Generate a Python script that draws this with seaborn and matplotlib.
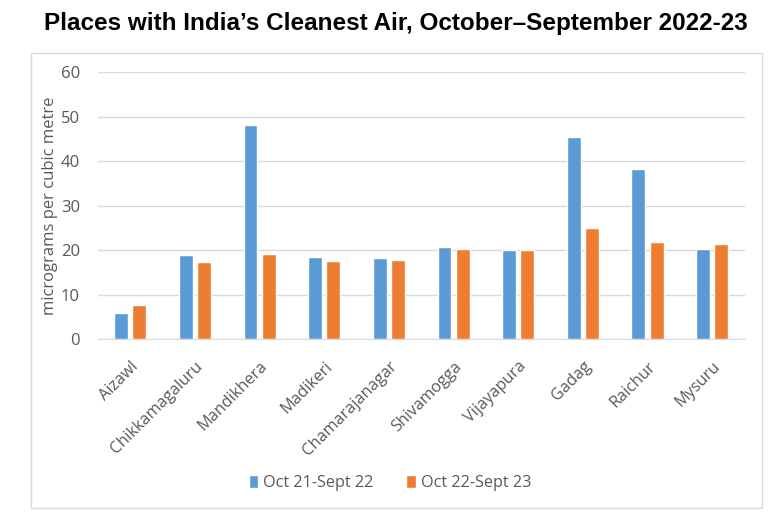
import seaborn as sns
import pandas as pd
import matplotlib.pyplot as plt
from matplotlib.patches import Rectangle

# Data
places = ["Aizawl", "Chikkamagaluru", "Mandikhera", "Madikeri", "Chamarajanagar",
          "Shivamogga", "Vijayapura", "Gadag", "Raichur", "Mysuru"]
pm_2122 = [5.8, 18.9, 48.1, 18.4, 18.2, 20.7, 20.1, 45.5, 38.1, 20.3]
pm_2223 = [7.6, 17.3, 19.1, 17.5, 17.7, 20.2, 19.9, 25.0, 21.9, 21.3]
periods = ["Oct 21-Sept 22", "Oct 22-Sept 23"]

df = pd.DataFrame({
    "place": places * 2,
    "value": pm_2122 + pm_2223,
    "period": [periods[0]] * len(places) + [periods[1]] * len(places),
})

sns.set_style("white")
plt.rcParams['font.family'] = ['Open Sans', 'DejaVu Sans']

fig = plt.figure(figsize=(7.8, 5.2), dpi=100)
ax = fig.add_axes([0.1256, 0.348, 0.829, 0.5135])

sns.barplot(data=df, x="place", y="value", hue="period", order=places, hue_order=periods,
            palette=["#5B9BD5", "#ED7D31"], saturation=1, width=0.566, gap=0.24,
            ax=ax, legend=True)

ax.set_ylim(0, 60)
ax.set_xlim(-0.5, 9.5)
ax.set_yticks(range(0, 61, 10))
ax.yaxis.grid(True, color="#D9D9D9", linewidth=1)
ax.set_axisbelow(True)
for s in ["top", "right", "left"]:
    ax.spines[s].set_visible(False)
ax.spines["bottom"].set_color("#D9D9D9")

ax.tick_params(axis="y", length=0, labelsize=12, labelcolor="#595959", pad=13)
ax.tick_params(axis="x", length=0, labelsize=11.7, labelcolor="#595959", pad=14)
plt.setp(ax.get_xticklabels(), rotation=45, ha="right", rotation_mode="anchor")
ax.set_xlabel("")
ax.set_ylabel("micrograms per cubic metre", fontsize=12, color="#595959", labelpad=2)

# Legend at the bottom
ax.legend(loc="center", bbox_to_anchor=(0.5, 0.071), bbox_transform=fig.transFigure,
          ncol=2, frameon=False, fontsize=11.7, handlelength=0.6, handleheight=0.9,
          handletextpad=0.3, columnspacing=2.0, labelcolor="#595959")

# Chart border
fig.patches.append(Rectangle((31 / 780, 1 - 508 / 520), 731 / 780, 455 / 520,
                             transform=fig.transFigure, fill=False,
                             edgecolor="#D9D9D9", linewidth=1))

fig.text(0.508, 0.955, "Places with India\u2019s Cleanest Air, October\u2013September 2022-23",
         ha="center", va="center", fontsize=17.5, fontweight="bold", color="black",
         family=["Liberation Sans", "DejaVu Sans"])

fig.savefig("out.png", dpi=100)
